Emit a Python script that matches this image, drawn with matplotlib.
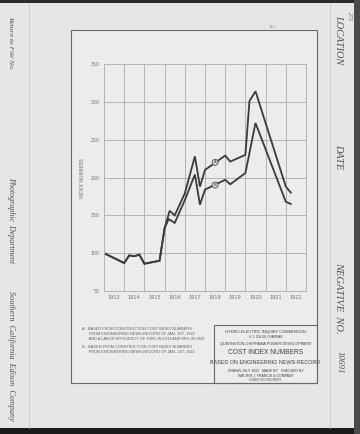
import matplotlib
matplotlib.use("Agg")
import matplotlib.pyplot as plt
from matplotlib.patches import Rectangle
from matplotlib.lines import Line2D

# ── Data ──────────────────────────────────────────────────────────────────────
YEARS_A = [1913.0, 1914.0, 1914.25, 1914.5, 1914.75, 1915.0, 1915.75, 1916.0,
           1916.25, 1916.5, 1917.0, 1917.5, 1917.75, 1918.0, 1919.0, 1919.25,
           1920.0, 1920.2, 1920.5, 1922.0, 1922.25]
INDEX_A = [100, 87, 97, 96, 98, 86, 90, 133,
           156, 150, 179, 228, 188, 210, 229, 221,
           230, 301, 314, 188, 180]

YEARS_B = [1913.0, 1914.0, 1914.25, 1914.5, 1914.75, 1915.0, 1915.75, 1916.0,
           1916.2, 1916.5, 1917.0, 1917.5, 1917.75, 1918.0, 1919.0, 1919.25,
           1920.0, 1920.5, 1922.0, 1922.25]
INDEX_B = [100, 87, 97, 96, 98, 86, 90, 133,
           145, 140, 170, 204, 164, 184, 197, 191,
           206, 272, 168, 165]

YEAR_LABELS = ["1913", "1914", "1915", "1916", "1917",
               "1918", "1919", "1920", "1921", "1922"]
Y_TICKS = [50, 100, 150, 200, 250, 300, 350]

NOTES = [
    "A - BASED FROM CONSTRUCTION COST INDEX NUMBERS",
    "      FROM ENGINEERING NEWS-RECORD OF JAN. 1ST, 1922",
    "      AND A LABOR EFFICIENCY OF 100% IN 1913 AND 60% IN 1920",
    "B - BASED FROM CONSTRUCTION COST INDEX NUMBERS",
    "      FROM ENGINEERING NEWS-RECORD OF JAN. 1ST, 1922",
]

W, H = 360, 434
PAPER = "#e6e6e6"
SHEET = "#ececec"
INK = "#3a3a3a"
GRID = "#b4b4b4"


def fx(x):
    return x / W


def fy(y):
    return 1 - y / H


fig = plt.figure(figsize=(W / 100, H / 100), dpi=100, facecolor=PAPER)

# ── Photo card: dark edges, strips, drawing sheet ─────────────────────────────
def rect(x0, y0, x1, y1, **kw):
    fig.patches.append(Rectangle((fx(x0), fy(y1)), fx(x1) - fx(x0),
                                 fy(y0) - fy(y1), transform=fig.transFigure,
                                 zorder=-5, **kw))

rect(0, 0, 360, 3, facecolor="#2a2a2a", edgecolor="none")
rect(0, 428, 360, 434, facecolor="#1a1a1a", edgecolor="none")
rect(354, 0, 360, 434, facecolor="#4a4a4a", edgecolor="none")
rect(71, 30, 317, 383, facecolor=SHEET, edgecolor="#6a6a6a", linewidth=0.8)
rect(214, 325, 317, 383, facecolor="none", edgecolor="#6a6a6a", linewidth=0.8)
for xline in (29, 330):
    fig.lines.append(Line2D([fx(xline)] * 2, [fy(3), fy(428)],
                            transform=fig.transFigure, color="#c8c8c8",
                            linewidth=0.6, zorder=-4))

# ── Chart ─────────────────────────────────────────────────────────────────────
ax = fig.add_axes([fx(104), fy(291), fx(306) - fx(104), fy(64) - fy(291)])
ax.set_facecolor(SHEET)
ax.plot(YEARS_A, INDEX_A, color=INK, linewidth=1.3, solid_joinstyle="miter")
ax.plot(YEARS_B, INDEX_B, color=INK, linewidth=1.3, solid_joinstyle="miter")

ax.set_xlim(1913, 1923)
ax.set_ylim(50, 350)
ax.set_xticks(range(1913, 1924))
ax.set_xticklabels([])
ax.set_xticks([1913.5 + i for i in range(len(YEAR_LABELS))], minor=True)
ax.set_xticklabels(YEAR_LABELS, minor=True, fontsize=3.6, color="#707070")
ax.set_yticks(Y_TICKS)
ax.set_yticklabels([str(v) for v in Y_TICKS], fontsize=3.4, color="#707070")
ax.tick_params(which="both", length=0, pad=3)
ax.grid(True, which="major", color=GRID, linewidth=0.7)
for s in ax.spines.values():
    s.set_color(GRID)
    s.set_linewidth(0.7)
ax.set_ylabel("INDEX NUMBERS", fontsize=3.4, color="#707070", labelpad=4)

for lab, yv in (("A", 220), ("B", 190)):
    ax.text(1918.5, yv, lab, fontsize=3, color=INK, ha="center", va="center",
            bbox=dict(boxstyle="circle,pad=0.25", facecolor="#d8d8d8",
                      edgecolor=INK, linewidth=0.5))

# ── Notes and title block ─────────────────────────────────────────────────────
for i, line in enumerate(NOTES):
    yy = [329, 333.7, 338.5, 347, 351.7][i]
    fig.text(fx(82), fy(yy), line, fontsize=2.8, color="#606060",
             va="center", ha="left", family="Liberation Sans")

title_lines = [
    ("HYDRO-ELECTRIC INQUIRY COMMISSION", 332.3, 2.9),
    ("H. G. DILLON, CHAIRMAN", 336.7, 2.0),
    ("QUEENSTON-CHIPPAWA POWER DEVELOPMENT", 344, 2.8),
    ("COST INDEX NUMBERS", 352.7, 4.8),
    ("BASED ON ENGINEERING NEWS-RECORD", 362.7, 3.9),
    ("DRAWN JULY 1922   MADE BY   CHECKED BY", 370.7, 2.5),
    ("WALTER J. FRANCIS & COMPANY", 376.3, 2.5),
    ("CONSULTING ENGINEERS", 380.3, 1.8),
]
for txt, yy, size in title_lines:
    fig.text(fx(265.5), fy(yy), txt, fontsize=size, color="#404040",
             ha="center", va="center", family="Liberation Sans")

fig.text(fx(272), fy(27), "144", fontsize=2.5, color="#909090",
         ha="center", va="center")

# ── Card captions (rotated) ───────────────────────────────────────────────────
serif = dict(family="Liberation Serif", style="italic", color="#505050",
             rotation=-90, ha="center", va="center")
fig.text(fx(339), fy(40), "LOCATION", fontsize=7.4, **serif)
fig.text(fx(339), fy(157), "DATE", fontsize=7.4, **serif)
fig.text(fx(339), fy(298), "NEGATIVE  NO.", fontsize=7.6, **serif)
fig.text(fx(340), fy(362), "10691", fontsize=6.4, **serif)
fig.text(fx(349), fy(16), "271", fontsize=4, **serif)
fig.text(fx(11), fy(43), "Return to File No.", fontsize=5.3, **serif)
fig.text(fx(11), fy(220), "Photographic  Department", fontsize=5.8, **serif)
fig.text(fx(11), fy(356), "Southern  California  Edison  Company",
         fontsize=5.9, **serif)

fig.savefig("out.png", dpi=100, facecolor=PAPER)
